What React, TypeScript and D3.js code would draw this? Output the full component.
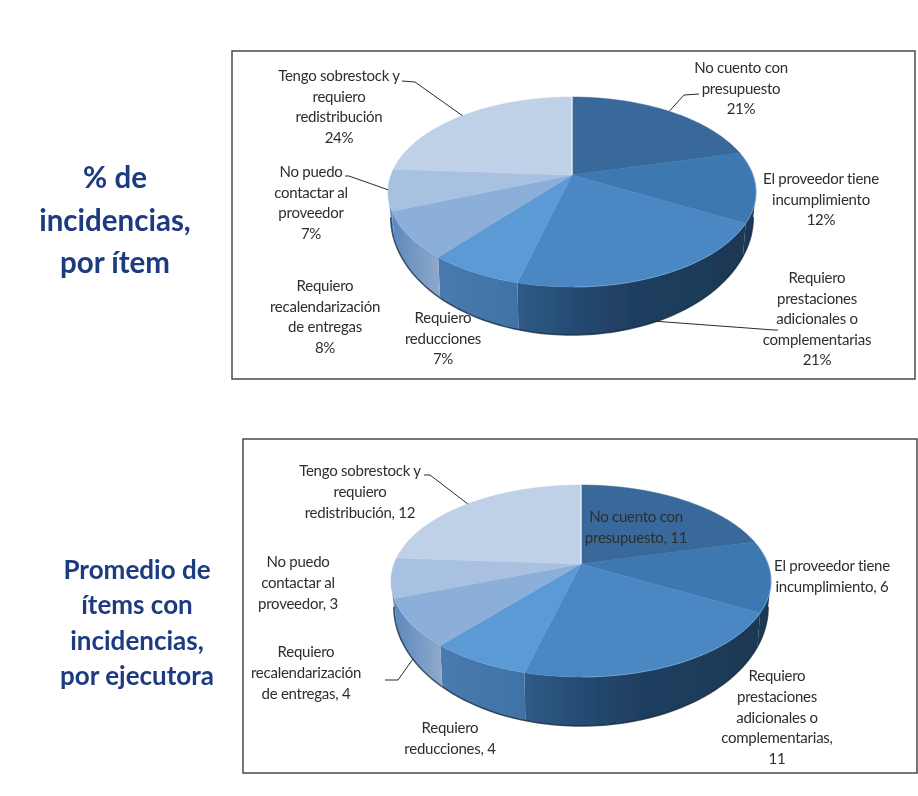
import { useEffect, useRef } from "react";
import * as d3 from "d3";

const W = 918;
const H = 796;

// slice order is clockwise from 12 o'clock
const pctValues = [21, 12, 21, 7, 8, 7, 24];
// labels are rounded, the slices show the unrounded averages
const avgValues = [10.7, 6.1, 10.7, 3.7, 4.1, 3.4, 12.2];

const pctLabels = [
    ["No cuento con", "presupuesto", "21%"],
    ["El proveedor tiene", "incumplimiento", "12%"],
    ["Requiero", "prestaciones", "adicionales o", "complementarias", "21%"],
    ["Requiero", "reducciones", "7%"],
    ["Requiero", "recalendarización", "de entregas", "8%"],
    ["No puedo", "contactar al", "proveedor", "7%"],
    ["Tengo sobrestock y", "requiero", "redistribución", "24%"],
];
const avgLabels = [
    ["No cuento con", "presupuesto, 11"],
    ["El proveedor tiene", "incumplimiento, 6"],
    ["Requiero", "prestaciones", "adicionales o", "complementarias,", "11"],
    ["Requiero", "reducciones, 4"],
    ["Requiero", "recalendarización", "de entregas, 4"],
    ["No puedo", "contactar al", "proveedor, 3"],
    ["Tengo sobrestock y", "requiero", "redistribución, 12"],
];

const topColors = ["#38699a", "#3c78b0", "#4c87c2", "#5b9ad6", "#8bafd9", "#a9c1e0", "#bfd1e7"];
// left to right stops of each slice's outer wall
const sideColors = [
    ["#1e3c5a", "#1e3c5a"],
    ["#1b3752", "#1e3c5a"],
    ["#2f5b87", "#254a72", "#1f3e5f", "#1e3c5a", "#1b3752"],
    ["#4a7aae", "#3f72a6"],
    ["#5a88bd", "#8ea8ca"],
    ["#5a88bd", "#5a88bd"],
    ["#5a88bd", "#5a88bd"],
];

interface ChartSpec {
    id: string;
    values: number[];
    labels: string[][];
    frame: [number, number, number, number];
    cx: number;
    apexY: number;
    topY: number;
    bottomY: number;
    rx: number;
    depth: number;
    lineGap: number;
    labelPos: [number, number][];
    // slice index, elbow, line end
    leaders: { i: number; onWall: boolean; elbow: [number, number]; end: [number, number] }[];
}

const charts: ChartSpec[] = [
    {
        id: "a",
        values: pctValues,
        labels: pctLabels,
        frame: [232, 51, 915, 379],
        cx: 572,
        apexY: 175,
        topY: 97,
        bottomY: 287,
        rx: 184,
        depth: 48,
        lineGap: 20.6,
        labelPos: [[741, 73], [821, 184], [817, 283], [443, 323], [325, 291], [311, 177], [339, 81]],
        leaders: [
            { i: 0, onWall: false, elbow: [684, 95], end: [699, 94] },
            { i: 2, onWall: true, elbow: [774, 330], end: [778, 330] },
            { i: 5, onWall: false, elbow: [349, 176], end: [345, 176] },
            { i: 6, onWall: false, elbow: [415, 82], end: [402, 81] },
        ],
    },
    {
        id: "b",
        values: avgValues,
        labels: avgLabels,
        frame: [243, 439, 917, 773],
        cx: 581,
        apexY: 564,
        topY: 485,
        bottomY: 677,
        rx: 190,
        depth: 49,
        lineGap: 20.8,
        labelPos: [[636, 522], [832, 571], [777, 681], [450, 733], [306, 657], [298, 567], [360, 476]],
        leaders: [
            { i: 4, onWall: true, elbow: [398, 680], end: [385, 680] },
            { i: 6, onWall: false, elbow: [430, 475], end: [424, 475] },
        ],
    },
];

const titles = [
    { lines: ["% de", "incidencias,", "por ítem"], x: 115, y: 188, size: 29.5, gap: 42.5 },
    { lines: ["Promedio de", "ítems con", "incidencias,", "por ejecutora"], x: 137, y: 579, size: 26, gap: 35.3 },
];

function drawChart(svg: d3.Selection<SVGSVGElement, unknown, null, undefined>, c: ChartSpec) {
    const g = svg.append("g").attr("filter", "url(#soft)");

    g.append("rect")
        .attr("x", c.frame[0])
        .attr("y", c.frame[1])
        .attr("width", c.frame[2] - c.frame[0])
        .attr("height", c.frame[3] - c.frame[1])
        .attr("fill", "#fff")
        .attr("stroke", "#4a4a4a")
        .attr("stroke-width", 1.5);

    // circle -> tilted ellipse, apex sits above the ellipse centre like Excel's perspective
    const k = (2 * c.apexY - c.topY - c.bottomY) / (c.bottomY - c.topY);
    const a = c.bottomY * (1 + k) - c.apexY;
    const d = c.rx * Math.sqrt(1 - k * k);
    const project = (theta: number, r = 1): [number, number] => {
        const x = r * Math.sin(theta);
        const y = -r * Math.cos(theta);
        const w = 1 + k * y;
        return [c.cx + (d * x) / w, (a * y + c.apexY) / w];
    };
    // lower rim: a bit narrower than the top and thinner towards the sides
    const lower = (p: [number, number]): [number, number] => [
        c.cx + (p[0] - c.cx) * 0.985,
        p[1] + c.depth + 0.24 * (p[1] - c.bottomY),
    ];

    const pie = d3.pie<number>().sort(null).startAngle(0).endAngle(2 * Math.PI);
    const arcs = pie(c.values);
    const line = d3.line();
    const sample = (a0: number, a1: number) => {
        const n = Math.max(2, Math.ceil((a1 - a0) * 40));
        return d3.range(n + 1).map((i) => project(a0 + ((a1 - a0) * i) / n));
    };

    // outer wall, only the part turned to the viewer
    const wallFrom = Math.acos(k);
    const wallTo = 2 * Math.PI - wallFrom;
    const defs = svg.append("defs");
    arcs.forEach((s, i) => {
        const a0 = Math.max(s.startAngle, wallFrom);
        const a1 = Math.min(s.endAngle, wallTo);
        if (a1 <= a0) return;
        const rim = sample(a0, a1);
        const poly = [...rim, ...rim.slice().reverse().map(lower)];
        const xs = d3.extent(rim, (p) => p[0]) as [number, number];
        const grad = defs
            .append("linearGradient")
            .attr("id", `wall-${c.id}-${i}`)
            .attr("gradientUnits", "userSpaceOnUse")
            .attr("x1", xs[0])
            .attr("x2", xs[1])
            .attr("y1", 0)
            .attr("y2", 0);
        sideColors[i].forEach((col, j) => {
            grad.append("stop")
                .attr("offset", j / (sideColors[i].length - 1))
                .attr("stop-color", col);
        });
        g.append("path")
            .attr("d", line(poly) + "Z")
            .attr("fill", `url(#wall-${c.id}-${i})`);
    });
    // dark shadow edge under the wall
    g.append("path")
        .attr("d", line(sample(wallFrom, wallTo).map(lower)))
        .attr("fill", "none")
        .attr("stroke", "#12263c")
        .attr("stroke-opacity", 0.75)
        .attr("stroke-width", 1.5);

    // top face
    arcs.forEach((s, i) => {
        const pts = [project(0, 0), ...sample(s.startAngle, s.endAngle)];
        g.append("path")
            .attr("d", line(pts) + "Z")
            .attr("fill", topColors[i])
            .attr("stroke", topColors[i])
            .attr("stroke-width", 0.5);
    });
    // light rim along the front
    g.append("path")
        .attr("d", line(sample(wallFrom * 0.8, wallTo - wallFrom * 0.8)))
        .attr("fill", "none")
        .attr("stroke", "#7fb0e2")
        .attr("stroke-opacity", 0.55)
        .attr("stroke-width", 1);
    // pale edge along the first slice's start
    g.append("path")
        .attr("d", line([project(0, 0), project(0)]))
        .attr("stroke", "#f0f5fb")
        .attr("stroke-width", 1.2);

    // leader lines
    c.leaders.forEach((l) => {
        const s = arcs[l.i];
        const p = project((s.startAngle + s.endAngle) / 2);
        const from = l.onWall ? lower(p) : p;
        g.append("path")
            .attr("d", line([from, l.elbow, l.end]))
            .attr("fill", "none")
            .attr("stroke", "#2b2b2b")
            .attr("stroke-width", 1);
    });

    // labels
    c.labels.forEach((lines, i) => {
        const t = g
            .append("text")
            .attr("text-anchor", "middle")
            .attr("font-family", "Lato, 'Open Sans', sans-serif")
            .attr("font-size", 15)
            .attr("letter-spacing", -0.25)
            .attr("fill", "#2e2e2e");
        lines.forEach((txt, j) => {
            t.append("tspan")
                .attr("x", c.labelPos[i][0])
                .attr("y", c.labelPos[i][1] + j * c.lineGap)
                .text(txt);
        });
    });
}

function App() {
    const svgRef = useRef<SVGSVGElement | null>(null);

    useEffect(() => {
        if (!svgRef.current) return;
        const svg = d3.select(svgRef.current);
        svg.selectAll("*").remove();

        svg.append("rect").attr("width", W).attr("height", H).attr("fill", "#fff");

        // the source is a resampled screenshot, everything is a little soft
        svg.append("defs")
            .append("filter")
            .attr("id", "soft")
            .append("feGaussianBlur")
            .attr("stdDeviation", 0.5);

        charts.forEach((c) => drawChart(svg, c));

        titles.forEach((t) => {
            const txt = svg
                .append("text")
                .attr("text-anchor", "middle")
                .attr("font-family", "Lato, sans-serif")
                .attr("font-weight", 700)
                .attr("font-size", t.size)
                .attr("fill", "#1c3a80")
                .attr("filter", "url(#soft)");
            t.lines.forEach((s, j) => {
                txt.append("tspan").attr("x", t.x).attr("y", t.y + j * t.gap).text(s);
            });
        });
    }, []);

    return (
        <svg
            ref={svgRef}
            width={W}
            height={H}
            style={{ position: "absolute", left: 0, top: 0 }}
        ></svg>
    );
}

export default App;
